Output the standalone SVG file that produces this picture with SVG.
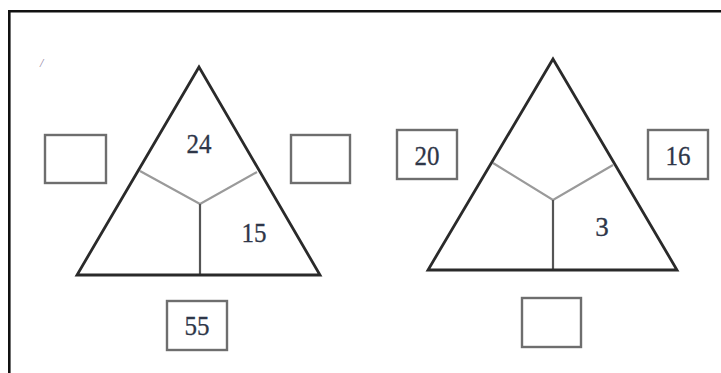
<svg xmlns="http://www.w3.org/2000/svg" width="721" height="373" viewBox="0 0 721 373">
<style>
.frame{fill:none;stroke:#111;stroke-width:2.6}
.tri{fill:none;stroke:#2a2a2a;stroke-width:2.8;stroke-linejoin:miter}
.div{fill:none;stroke:#9a9a9a;stroke-width:2.2}
.vert{fill:none;stroke:#555;stroke-width:2.2}
.box{fill:#fff;stroke:#6e6e6e;stroke-width:2.4}
.num{font-family:"Liberation Serif",serif;font-size:27px;fill:#2e3648;text-anchor:middle;stroke:#2e3648;stroke-width:0.3}
.mark{font-family:"Liberation Serif",serif;font-size:12px;font-style:italic;fill:#8a7a9a}
</style>
<rect width="721" height="373" fill="#fff"/>
<g id="frame">
<path class="frame" d="M9.3,373 V11.3 H721"/>
<text class="mark" x="40" y="67">/</text>
</g>
<g id="connectors">
<path class="div" d="M140,171 L200,204 L257,172"/>
<path class="vert" d="M200,204 V275"/>
<path class="div" d="M493,163 L553,200 L613,165"/>
<path class="vert" d="M553,200 V270"/>
</g>
<g id="triangle-left">
<path class="tri" d="M199,67 L77,275 L320,275 Z"/>
<text class="num" x="199" y="153" textLength="25" lengthAdjust="spacingAndGlyphs">24</text>
<text class="num" x="254" y="242" textLength="25" lengthAdjust="spacingAndGlyphs">15</text>
</g>
<g id="box-left-1"><rect class="box" x="45" y="135" width="61" height="48"/></g>
<g id="box-right-1"><rect class="box" x="291" y="135" width="59" height="48"/></g>
<g id="box-bottom-1"><rect class="box" x="167" y="301" width="60" height="49"/><text class="num" x="197" y="335" textLength="25" lengthAdjust="spacingAndGlyphs">55</text></g>
<g id="triangle-right">
<path class="tri" d="M553,59 L428,270 L677,270 Z"/>
<text class="num" x="602" y="236">3</text>
</g>
<g id="box-left-2"><rect class="box" x="397" y="130" width="60" height="49"/><text class="num" x="427" y="165" textLength="25" lengthAdjust="spacingAndGlyphs">20</text></g>
<g id="box-right-2"><rect class="box" x="648" y="130" width="60" height="49"/><text class="num" x="678" y="165" textLength="25" lengthAdjust="spacingAndGlyphs">16</text></g>
<g id="box-bottom-2"><rect class="box" x="522" y="298" width="59" height="49"/></g>
</svg>
